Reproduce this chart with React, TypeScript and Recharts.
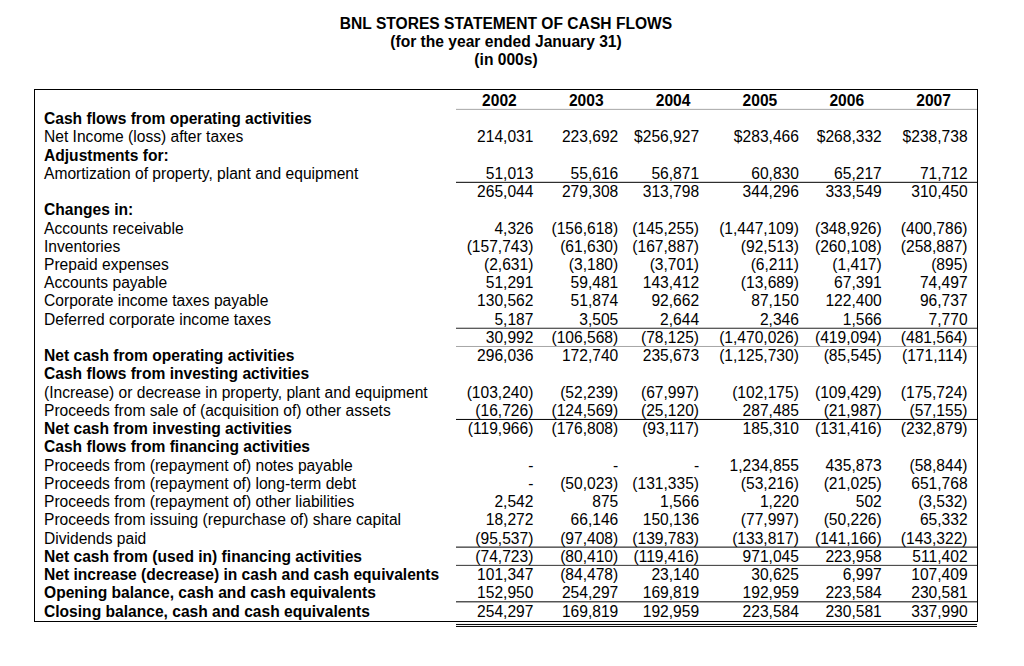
import React from "react"
import { ReferenceLine, Scatter, ScatterChart, XAxis, YAxis } from "recharts"

const years = ["2002", "2003", "2004", "2005", "2006", "2007"]

const rowLabels = [
  "Cash flows from operating activities",
  "Net Income (loss) after taxes",
  "Adjustments for:",
  "Amortization of property, plant and equipment",
  "",
  "Changes in:",
  "Accounts receivable",
  "Inventories",
  "Prepaid expenses",
  "Accounts payable",
  "Corporate income taxes payable",
  "Deferred corporate income taxes",
  "",
  "Net cash from operating activities",
  "Cash flows from investing activities",
  "(Increase) or decrease in property, plant and equipment",
  "Proceeds from sale of (acquisition of) other assets",
  "Net cash from investing activities",
  "Cash flows from financing activities",
  "Proceeds from (repayment of) notes payable",
  "Proceeds from (repayment of) long-term debt",
  "Proceeds from (repayment of) other liabilities",
  "Proceeds from issuing (repurchase of) share capital",
  "Dividends paid",
  "Net cash from (used in) financing activities",
  "Net increase (decrease) in cash and cash equivalents",
  "Opening balance, cash and cash equivalents",
  "Closing balance, cash and cash equivalents",
]

const boldRows = [0, 2, 5, 13, 14, 17, 18, 24, 25, 26, 27]

// values in 000s, null = empty cell, 0 shows as "-"
const v2002 = [null, 214031, null, 51013, 265044, null, 4326, -157743, -2631, 51291, 130562, 5187, 30992, 296036, null, -103240, -16726, -119966, null, 0, 0, 2542, 18272, -95537, -74723, 101347, 152950, 254297]
const v2003 = [null, 223692, null, 55616, 279308, null, -156618, -61630, -3180, 59481, 51874, 3505, -106568, 172740, null, -52239, -124569, -176808, null, 0, -50023, 875, 66146, -97408, -80410, -84478, 254297, 169819]
const v2004 = [null, 256927, null, 56871, 313798, null, -145255, -167887, -3701, 143412, 92662, 2644, -78125, 235673, null, -67997, -25120, -93117, null, 0, -131335, 1566, 150136, -139783, -119416, 23140, 169819, 192959]
const v2005 = [null, 283466, null, 60830, 344296, null, -1447109, -92513, -6211, -13689, 87150, 2346, -1470026, -1125730, null, -102175, 287485, 185310, null, 1234855, -53216, 1220, -77997, -133817, 971045, 30625, 192959, 223584]
const v2006 = [null, 268332, null, 65217, 333549, null, -348926, -260108, -1417, 67391, 122400, 1566, -419094, -85545, null, -109429, -21987, -131416, null, 435873, -21025, 502, -50226, -141166, 223958, 6997, 223584, 230581]
const v2007 = [null, 238738, null, 71712, 310450, null, -400786, -258887, -895, 74497, 96737, 7770, -481564, -171114, null, -175724, -57155, -232879, null, -58844, 651768, -3532, 65332, -143322, 511402, 107409, 230581, 337990]

const columns = [v2002, v2003, v2004, v2005, v2006, v2007]

// cells printed with a dollar sign (net income row)
const dollarYears = ["2004", "2005", "2006", "2007"]
const dollarRow = 1

const cells = years.flatMap((year, yi) =>
  columns[yi]
    .map((value, row) => ({ year, row, value, dollar: row === dollarRow && dollarYears.includes(year) }))
    .filter((c) => c.value !== null)
)

const FONT = "'Liberation Sans', Arial, sans-serif"
const SIZE = 15.6
const LABEL_X = 44
const HEADER_Y = 100
const CELL_SHIFT = 34
// small per-column nudges of the right-aligned numbers
const colNudge: Record<string, number> = { "2002": 0, "2003": -2, "2004": -8, "2005": 5, "2006": 1, "2007": 0 }

const rules = [
  { y: -0.5, color: "#a6a6a6" },
  { y: 3.5, color: "#000" },
  { y: 11.5, color: "#222" },
  { y: 12.5, color: "#a6a6a6" },
  { y: 16.5, color: "#000" },
  { y: 23.5, color: "#000" },
  { y: 24.5, color: "#333" },
  { y: 26.5, color: "#000" },
  { y: 27.74, color: "#000" },
  { y: 27.85, color: "#000" },
]

const fmt = (v: number, dollar: boolean) => {
  if (v === 0) return "-"
  const s = Math.abs(v).toLocaleString("en-US")
  const d = dollar ? "$" + s : s
  return v < 0 ? `(${d})` : d
}

const CellText = (props: any) => {
  const { cx, cy, payload } = props
  return (
    <text
      x={cx + CELL_SHIFT + (colNudge[payload.year] || 0)}
      y={cy}
      dy="0.36em"
      textAnchor="end"
      fontFamily={FONT}
      fontSize={SIZE}
      fill="#000"
    >
      {fmt(payload.value, payload.dollar)}
    </text>
  )
}

const YearTick = (props: any) => (
  <text x={props.x} y={HEADER_Y} dy="0.36em" textAnchor="middle" fontFamily={FONT} fontSize={SIZE} fontWeight="bold" fill="#000">
    {props.payload.value}
  </text>
)

const RowTick = (props: any) => {
  const row = props.payload.value
  return (
    <text
      x={LABEL_X}
      y={props.y}
      dy="0.36em"
      textAnchor="start"
      fontFamily={FONT}
      fontSize={SIZE}
      fontWeight={boldRows.includes(row) ? "bold" : "normal"}
      fill="#000"
    >
      {rowLabels[row]}
    </text>
  )
}

export default function App() {
  return (
    <div style={{ position: "absolute", left: 0, top: 0, width: 1024, height: 666, background: "#fff" }}>
      <div
        style={{
          position: "absolute",
          left: 0,
          top: 15,
          width: 1012,
          textAlign: "center",
          fontFamily: FONT,
          fontSize: SIZE,
          fontWeight: "bold",
          lineHeight: "18px",
          color: "#000",
        }}
      >
        <div>BNL STORES STATEMENT OF CASH FLOWS</div>
        <div>(for the year ended January 31)</div>
        <div>(in 000s)</div>
      </div>
      <div
        style={{
          position: "absolute",
          left: 34,
          top: 89,
          width: 944,
          height: 533,
          border: "1px solid #000",
          boxSizing: "border-box",
        }}
      />
      <div style={{ position: "absolute", left: 0, top: 0 }}>
        <ScatterChart width={1024} height={666} margin={{ top: 62, right: 47, bottom: 36.8, left: 35 }}>
          <XAxis
            type="category"
            dataKey="year"
            orientation="top"
            height={20}
            allowDuplicatedCategory={false}
            axisLine={false}
            tickLine={false}
            tick={YearTick}
          />
          <YAxis
            type="number"
            dataKey="row"
            domain={[-2, 28]}
            reversed
            width={421}
            ticks={rowLabels.map((_, i) => i)}
            interval={0}
            axisLine={false}
            tickLine={false}
            tick={RowTick}
          />
          {rules.map((r) => (
            <ReferenceLine key={r.y} y={r.y} stroke={r.color} strokeWidth={1} />
          ))}
          <Scatter data={cells} shape={CellText} isAnimationActive={false} />
        </ScatterChart>
      </div>
    </div>
  )
}
